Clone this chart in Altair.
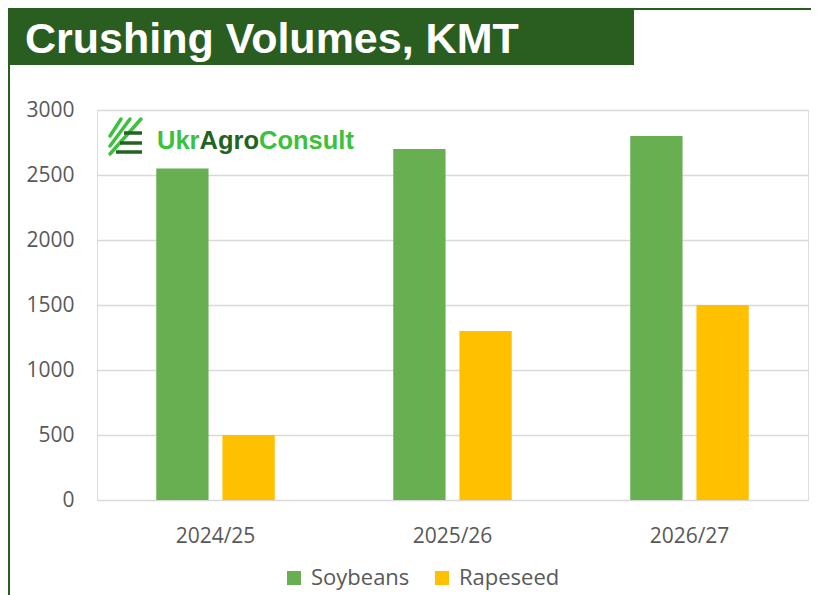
import altair as alt
import pandas as pd

seasons = ["2024/25", "2025/26", "2026/27"]
soybeans = [2550, 2700, 2800]
rapeseed = [500, 1300, 1500]
series = ["Soybeans", "Rapeseed"]
colors = ["#67AF51", "#FFC000"]
title_text = "Crushing Volumes, KMT"

rows = []
for i, s in enumerate(seasons):
    rows.append({"season": s, "crop": series[0], "value": soybeans[i]})
    rows.append({"season": s, "crop": series[1], "value": rapeseed[i]})
df = pd.DataFrame(rows)

W, H = 711, 390
DARK = "#2A5E21"
one = pd.DataFrame({"a": [0]})
LABEL_FONT = "Open Sans"

bars = alt.Chart(df).mark_bar().encode(
    x=alt.X("season:N", sort=seasons, title=None,
            scale=alt.Scale(paddingInner=0.5, paddingOuter=0.25),
            axis=alt.Axis(labelAngle=0, labelFont=LABEL_FONT, labelFontSize=21,
                          labelColor="#595959", domain=False, ticks=False,
                          labelPadding=25, grid=False)),
    xOffset=alt.XOffset("crop:N", sort=series,
                        scale=alt.Scale(paddingInner=0.21, paddingOuter=0)),
    y=alt.Y("value:Q", title=None,
            scale=alt.Scale(domain=[0, 3000], nice=False),
            axis=alt.Axis(values=[0, 500, 1000, 1500, 2000, 2500, 3000], format="d",
                          labelFont=LABEL_FONT, labelFontSize=21,
                          labelColor="#595959", domain=False, ticks=False,
                          labelPadding=23, gridColor="#D9D9D9", gridWidth=1.5)),
    color=alt.Color("crop:N", sort=series,
                    scale=alt.Scale(domain=series, range=colors),
                    legend=alt.Legend(title=None, orient="none", legendX=186, legendY=457,
                                      direction="horizontal", symbolType="square",
                                      symbolSize=196, symbolStrokeWidth=0,
                                      labelFont=LABEL_FONT, labelFontSize=22,
                                      labelColor="#595959", labelOffset=6,
                                      columnPadding=21)),
)

# frame decorations (view origin at page (97,110))
title_box = alt.Chart(one).mark_rect(color=DARK).encode(
    x=alt.value(-89), x2=alt.value(537), y=alt.value(-102), y2=alt.value(-45))
top_line = alt.Chart(one).mark_rect(color=DARK).encode(
    x=alt.value(537), x2=alt.value(722), y=alt.value(-102), y2=alt.value(-100))
left_line = alt.Chart(one).mark_rect(color=DARK).encode(
    x=alt.value(-89), x2=alt.value(-87), y=alt.value(-45), y2=alt.value(490))
title = alt.Chart(one).mark_text(
    text=title_text, font="Liberation Sans", fontWeight="bold", fontSize=43,
    color="white", align="left", baseline="alphabetic").encode(
    x=alt.value(-72), y=alt.value(-57))

# logo
LG = "#3CC13C"
LD = "#22631F"
logo_parts = []
for txt, xx, col in [("Ukr", 60, LG), ("Agro", 102.5, LD), ("Consult", 162, LG)]:
    logo_parts.append(alt.Chart(one).mark_text(
        text=txt, font="Liberation Sans", fontWeight="bold", fontSize=25.5,
        color=col, align="left", baseline="alphabetic").encode(
        x=alt.value(xx), y=alt.value(39)))
for (x1, y1, x2, y2) in [(13, 26, 24, 9), (13, 36, 33, 9), (13, 44, 44, 9)]:
    logo_parts.append(alt.Chart(one).mark_rule(color=LG, strokeWidth=3.5, strokeCap="round").encode(
        x=alt.value(x1), y=alt.value(y1), x2=alt.value(x2), y2=alt.value(y2)))
for (x1, x2, y) in [(27, 45, 23), (23, 45, 33), (19, 45, 42)]:
    logo_parts.append(alt.Chart(one).mark_rule(color=LD, strokeWidth=3.5).encode(
        x=alt.value(x1), x2=alt.value(x2), y=alt.value(y)))

chart = alt.layer(bars, title_box, top_line, left_line, title, *logo_parts).properties(
    width=W, height=H,
    autosize=alt.AutoSizeParams(type="none"),
    padding={"left": 89, "top": 102, "right": 3, "bottom": 95},
).configure_view(strokeWidth=0).configure(background="white")

chart.save("out.html", embed_options={"renderer": "svg", "actions": False})
